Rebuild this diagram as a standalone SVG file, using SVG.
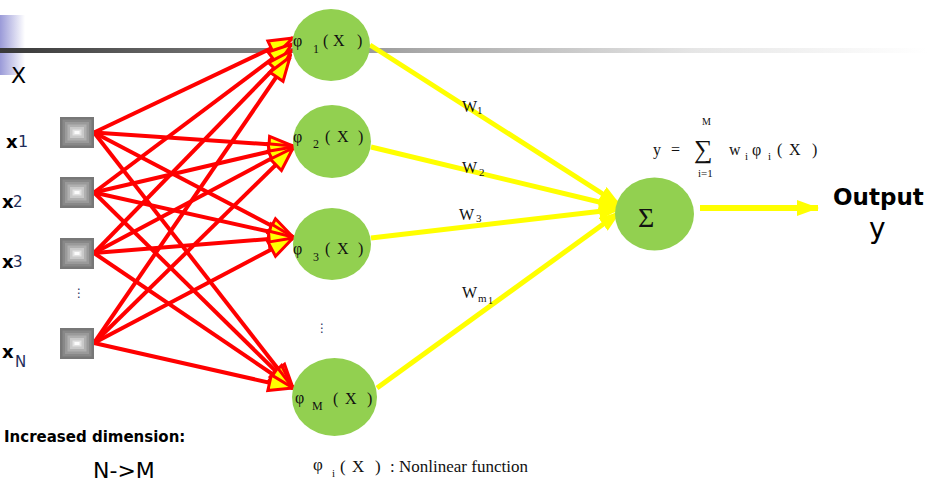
<svg xmlns="http://www.w3.org/2000/svg" width="927" height="487" viewBox="0 0 927 487">
<defs>
<linearGradient id="bar" x1="0" y1="0" x2="1" y2="0">
<stop offset="0" stop-color="#383838"/>
<stop offset="0.45" stop-color="#a8a8a8"/>
<stop offset="0.75" stop-color="#e6e6e6"/>
<stop offset="1" stop-color="#ffffff"/>
</linearGradient>
<linearGradient id="blue" x1="0" y1="0" x2="1" y2="0">
<stop offset="0" stop-color="#9a9ad8"/>
<stop offset="1" stop-color="#ffffff"/>
</linearGradient>
<g id="sq">
<rect x="0" y="0" width="34" height="31" fill="#777777"/>
<rect x="2.5" y="2.5" width="29" height="26" fill="#888888"/>
<rect x="5" y="5" width="24" height="21" fill="#9a9a9a"/>
<rect x="7.5" y="7.5" width="19" height="16" fill="#b0b0b0"/>
<rect x="10" y="10" width="14" height="11" fill="#c9c9c9"/>
<rect x="12.5" y="12.5" width="9" height="6" fill="#e2e2e2"/>
<rect x="14.5" y="14" width="5" height="3" fill="#fbfbfb"/>
</g>
<marker id="ra" viewBox="-3 -3 30 22" markerWidth="30" markerHeight="22" refX="24" refY="8" orient="auto" markerUnits="userSpaceOnUse">
<path d="M0,0 L24,8 L0,16 Z" fill="#ffff00" stroke="#ff0000" stroke-width="3" stroke-linejoin="miter"/>
</marker>
<marker id="ya" viewBox="0 0 22 16" markerWidth="22" markerHeight="16" refX="21" refY="8" orient="auto" markerUnits="userSpaceOnUse">
<path d="M0,0 L22,8 L0,16 Z" fill="#ffff00"/>
</marker>
<style>
.red{stroke:#ff0000;stroke-width:4;fill:none;marker-end:url(#ra)}
.yel{stroke:#ffff00;stroke-width:5;fill:none;marker-end:url(#ya)}
.node{fill:#92d050}
.ser{font-family:"Liberation Serif","DejaVu Serif",serif;fill:#111111}
.sans{font-family:"DejaVu Sans","Liberation Sans",sans-serif;fill:#000000}
.sub{font-family:"DejaVu Sans","Liberation Sans",sans-serif;fill:#1f2d5a}
</style>
</defs>
<rect x="0" y="0" width="927" height="487" fill="#ffffff"/>
<rect x="0" y="15" width="25" height="60" fill="url(#blue)"/>
<rect x="0" y="48" width="927" height="5" fill="url(#bar)"/>

<g id="connectors">
<line class="red" x1="94" y1="132.5" x2="293" y2="38"/>
<line class="red" x1="94" y1="192.5" x2="292" y2="44"/>
<line class="red" x1="94" y1="253" x2="291" y2="51"/>
<line class="red" x1="94" y1="343" x2="290" y2="57"/>
<line class="red" x1="94" y1="132.5" x2="293" y2="146"/>
<line class="red" x1="94" y1="192.5" x2="293" y2="146"/>
<line class="red" x1="94" y1="253" x2="293" y2="147"/>
<line class="red" x1="94" y1="343" x2="293" y2="148"/>
<line class="red" x1="94" y1="132.5" x2="293" y2="237"/>
<line class="red" x1="94" y1="192.5" x2="293" y2="237"/>
<line class="red" x1="94" y1="253" x2="293" y2="237"/>
<line class="red" x1="94" y1="343" x2="293" y2="238"/>
<line class="red" x1="94" y1="132.5" x2="293" y2="388"/>
<line class="red" x1="94" y1="192.5" x2="293" y2="388"/>
<line class="red" x1="94" y1="253" x2="293" y2="388"/>
<line class="red" x1="94" y1="343" x2="293" y2="388"/>
<line class="yel" x1="370" y1="45" x2="620" y2="205"/>
<line class="yel" x1="371" y1="147" x2="620" y2="207"/>
<line class="yel" x1="371" y1="238" x2="620" y2="209"/>
<line class="yel" x1="377" y1="388" x2="620" y2="212"/>
<line class="yel" x1="700" y1="208" x2="818" y2="208" style="stroke-width:6"/>
</g>

<g id="in1"><use href="#sq" x="60" y="117"/></g>
<g id="in2"><use href="#sq" x="60" y="177"/></g>
<g id="in3"><use href="#sq" x="60" y="238"/></g>
<g id="inN"><use href="#sq" x="60" y="328"/></g>

<g id="phi1">
<ellipse class="node" cx="331" cy="45" rx="39" ry="36"/>
<text class="ser" x="293" y="46" font-size="16">φ</text>
<text class="ser" x="313" y="53" font-size="12">1</text>
<text class="ser" x="323" y="46" font-size="16">(</text>
<text class="ser" x="333" y="46" font-size="16">X</text>
<text class="ser" x="357" y="46" font-size="16">)</text>
</g>
<g id="phi2">
<ellipse class="node" cx="332" cy="141.5" rx="39" ry="36.5"/>
<text class="ser" x="293" y="142" font-size="16">φ</text>
<text class="ser" x="313" y="148" font-size="12">2</text>
<text class="ser" x="325" y="142" font-size="16">(</text>
<text class="ser" x="337" y="142" font-size="16">X</text>
<text class="ser" x="358" y="142" font-size="16">)</text>
</g>
<g id="phi3">
<ellipse class="node" cx="332" cy="244" rx="39" ry="36"/>
<text class="ser" x="293" y="254" font-size="16">φ</text>
<text class="ser" x="313" y="261" font-size="12">3</text>
<text class="ser" x="325" y="254" font-size="16">(</text>
<text class="ser" x="337" y="254" font-size="16">X</text>
<text class="ser" x="358" y="254" font-size="16">)</text>
</g>
<g id="phiM">
<ellipse class="node" cx="334.5" cy="397" rx="42.5" ry="39"/>
<text class="ser" x="295" y="403" font-size="16">φ</text>
<text class="ser" x="312" y="410" font-size="12">M</text>
<text class="ser" x="333" y="404" font-size="16">(</text>
<text class="ser" x="345" y="404" font-size="16">X</text>
<text class="ser" x="367" y="404" font-size="16">)</text>
</g>
<g id="sum">
<ellipse class="node" cx="654.5" cy="214" rx="39.5" ry="36.5"/>
<text class="ser" x="638" y="227" font-size="28">Σ</text>
</g>

<g id="labels">
<text class="sans" x="11" y="83" font-size="22">X</text>
<text class="sans" x="6" y="148" font-size="18" font-weight="bold">x</text>
<text class="sub" x="18" y="147" font-size="16">1</text>
<text class="sans" x="2" y="208" font-size="18" font-weight="bold">x</text>
<text class="sub" x="13" y="207" font-size="15">2</text>
<text class="sans" x="2" y="268" font-size="18" font-weight="bold">x</text>
<text class="sub" x="13" y="267" font-size="15">3</text>
<text class="sub" x="73" y="297" font-size="12">⋮</text>
<text class="sans" x="2" y="358" font-size="18" font-weight="bold">x</text>
<text class="sub" x="15" y="367" font-size="15">N</text>
<text class="sub" x="316" y="332" font-size="12">⋮</text>

<text class="ser" x="462" y="112" font-size="16">W</text>
<text class="ser" x="477" y="114" font-size="11">1</text>
<text class="ser" x="462" y="173" font-size="16">W</text>
<text class="ser" x="479" y="176" font-size="11">2</text>
<text class="ser" x="459" y="220" font-size="16">W</text>
<text class="ser" x="476" y="222" font-size="11">3</text>
<text class="ser" x="462" y="298" font-size="16">W</text>
<text class="ser" x="478" y="302" font-size="11">m</text>
<text class="ser" x="488" y="304" font-size="10">1</text>

<text class="ser" x="653" y="155" font-size="16">y</text>
<text class="ser" x="671" y="155" font-size="16">=</text>
<text class="ser" x="694" y="158" font-size="26">∑</text>
<text class="ser" x="702" y="125" font-size="10">M</text>
<text class="ser" x="698" y="177" font-size="11">i=1</text>
<text class="ser" x="729" y="155" font-size="16">w</text>
<text class="ser" x="745" y="160" font-size="11">i</text>
<text class="ser" x="752" y="155" font-size="16">φ</text>
<text class="ser" x="768" y="160" font-size="11">i</text>
<text class="ser" x="777" y="155" font-size="16">(</text>
<text class="ser" x="789" y="155" font-size="16">X</text>
<text class="ser" x="812" y="155" font-size="16">)</text>

<text class="sans" x="833" y="205" font-size="23" font-weight="bold">Output</text>
<text class="sans" x="869" y="238" font-size="28">y</text>

<text class="sans" x="4" y="442" font-size="15" font-weight="bold">Increased dimension:</text>
<text class="sans" x="93" y="478" font-size="22">N-&gt;M</text>

<text class="ser" x="313" y="470" font-size="17">φ</text>
<text class="ser" x="332" y="477" font-size="11">i</text>
<text class="ser" x="340" y="472" font-size="17">(</text>
<text class="ser" x="352" y="472" font-size="17">X</text>
<text class="ser" x="375" y="472" font-size="17">)</text>
<text class="ser" x="390" y="472" font-size="17">:</text>
<text class="ser" x="399" y="472" font-size="17">Nonlinear function</text>
</g>
</svg>
